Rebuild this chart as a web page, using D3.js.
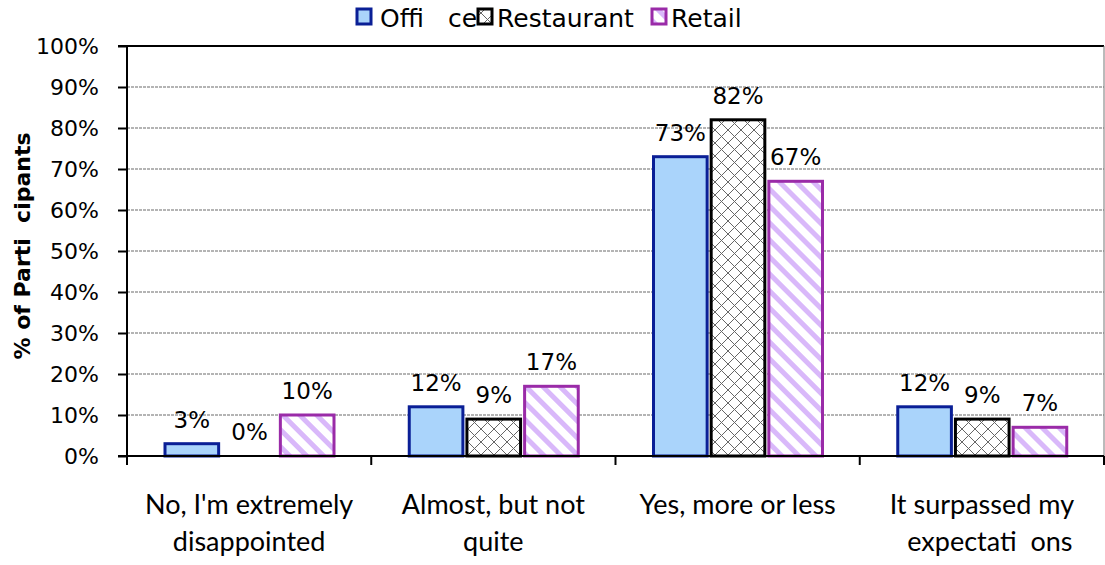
<!DOCTYPE html>
<html><head><meta charset="utf-8">
<script src="https://cdn.jsdelivr.net/npm/d3@7/dist/d3.min.js"></script>
<style>body{margin:0;background:#fff}svg{display:block}</style>
</head><body>
<script>
const categories = [["No, I'm extremely","disappointed"],["Almost, but not","quite"],["Yes, more or less"],["It surpassed my","expectati  ons"]];
const seriesNames = [["Offi","ce"],["Restaurant"],["Retail"]];
const office = [3, 12, 73, 12];
const restaurant = [0, 9, 82, 9];
const retail = [10, 17, 67, 7];
const yTicks = [0,10,20,30,40,50,60,70,80,90,100];
const yTitle = "% of Parti  cipants";

const W = 1105, H = 565;
const m = {l:127, r:1104, t:46, b:456};
const svg = d3.select("body").append("svg").attr("width",W).attr("height",H);
const defs = svg.append("defs");
const ph = defs.append("pattern").attr("id","cross").attr("patternUnits","userSpaceOnUse").attr("width",13).attr("height",13);
ph.append("rect").attr("width",13).attr("height",13).attr("fill","#fff");
ph.append("path").attr("d","M0,0L13,13M13,0L0,13").attr("stroke","#666").attr("stroke-width",1);
const pd = defs.append("pattern").attr("id","diag").attr("patternUnits","userSpaceOnUse").attr("width",12).attr("height",12).attr("patternTransform","rotate(-45)");
pd.append("rect").attr("width",12).attr("height",12).attr("fill","#fff");
pd.append("rect").attr("width",5).attr("height",12).attr("fill","#d9b8fa");

const y = d3.scaleLinear().domain([0,100]).range([m.b,m.t]);
const x0 = d3.scaleBand().domain(d3.range(categories.length)).range([m.l,m.r]).paddingInner(0).paddingOuter(0);
const x1 = d3.scaleBand().domain(d3.range(3)).range([38,207]).paddingInner(0.07).paddingOuter(0);

svg.append("g").selectAll("line").data(yTicks.filter(t=>t>0&&t<100)).join("line")
  .attr("x1",m.l).attr("x2",m.r).attr("y1",d=>y(d)).attr("y2",d=>y(d))
  .attr("stroke","#b4b4b4").attr("stroke-width",2).attr("stroke-dasharray","3,1");
svg.append("line").attr("x1",m.l-9).attr("x2",m.r).attr("y1",m.t).attr("y2",m.t).attr("stroke","#000").attr("stroke-width",2);
svg.append("line").attr("x1",m.r).attr("x2",m.r).attr("y1",m.t).attr("y2",m.b).attr("stroke","#777").attr("stroke-width",1);

const series = [
  {vals:office, fill:"#aad4fb", stroke:"#0a1f96"},
  {vals:restaurant, fill:"url(#cross)", stroke:"#000"},
  {vals:retail, fill:"url(#diag)", stroke:"#9a2ba8"}
];
const bars = [];
series.forEach((s,si)=>s.vals.forEach((v,ci)=>bars.push({si,ci,v,s})));
const g = svg.append("g");
g.selectAll("rect").data(bars.filter(d=>d.v>0)).join("rect")
  .attr("x",d=>x0(d.ci)+x1(d.si)).attr("width",x1.bandwidth())
  .attr("y",d=>y(d.v)).attr("height",d=>y(0)-y(d.v))
  .attr("fill",d=>d.s.fill).attr("stroke",d=>d.s.stroke).attr("stroke-width",3);
g.selectAll("text").data(bars).join("text")
  .attr("x",d=>x0(d.ci)+x1(d.si)+x1.bandwidth()/2).attr("y",d=>y(d.v)-16)
  .attr("text-anchor","middle").attr("font-family","DejaVu Sans").attr("font-size",23).attr("fill","#000")
  .text(d=>d.v+"%");

const ya = svg.append("g").attr("transform",`translate(${m.l},0)`)
  .call(d3.axisLeft(y).tickValues(yTicks).tickSize(9).tickFormat(d=>d+"%"));
ya.select(".domain").attr("stroke","#000").attr("stroke-width",2).attr("d",`M0,${m.t}V${m.b}`);
ya.selectAll(".tick line").attr("stroke","#000").attr("stroke-width",2);
ya.selectAll(".tick text").attr("font-family","DejaVu Sans").attr("font-size",22).attr("fill","#000").attr("x",-28).attr("dy","0.36em");

const xa = svg.append("g").attr("transform",`translate(0,${m.b})`);
xa.append("line").attr("x1",m.l-9).attr("x2",m.r).attr("stroke","#000").attr("stroke-width",2);
xa.selectAll(".tk").data(d3.range(categories.length+1)).join("line")
  .attr("x1",d=>m.l+d*x0.bandwidth()).attr("x2",d=>m.l+d*x0.bandwidth()).attr("y1",0).attr("y2",9)
  .attr("stroke","#000").attr("stroke-width",2);
const cl = svg.append("g").selectAll("text").data(categories).join("text")
  .attr("text-anchor","middle").attr("font-family","Lato").attr("font-size",27).attr("fill","#000")
  .style("white-space","pre");
cl.each(function(lines,i){
  const t = d3.select(this);
  lines.forEach((ln,j)=>t.append("tspan").attr("x",x0(i)+x0.bandwidth()/2 + (i===3&&j===1?8:0)).attr("y",514+j*37).text(ln));
});

svg.append("text").attr("transform","translate(30,246) rotate(-90)").attr("text-anchor","middle")
  .attr("font-family","DejaVu Sans").attr("font-weight","bold").attr("font-size",22).style("white-space","pre").text(yTitle);

const lg = svg.append("g");
const lx = [357, 478, 652];
series.forEach((s,i)=>{
  lg.append("rect").attr("x",lx[i]).attr("y",9).attr("width",14).attr("height",15).attr("fill",s.fill).attr("stroke",s.stroke).attr("stroke-width",3);
  const t = lg.append("text").attr("y",27).attr("font-family","DejaVu Sans").attr("font-size",25);
  if(i===0){
    t.append("tspan").attr("x",380).text(seriesNames[0][0]);
    t.append("tspan").attr("x",448).text(seriesNames[0][1]);
  } else {
    t.append("tspan").attr("x",lx[i]+19).text(seriesNames[i][0]);
  }
});
</script>
</body></html>
